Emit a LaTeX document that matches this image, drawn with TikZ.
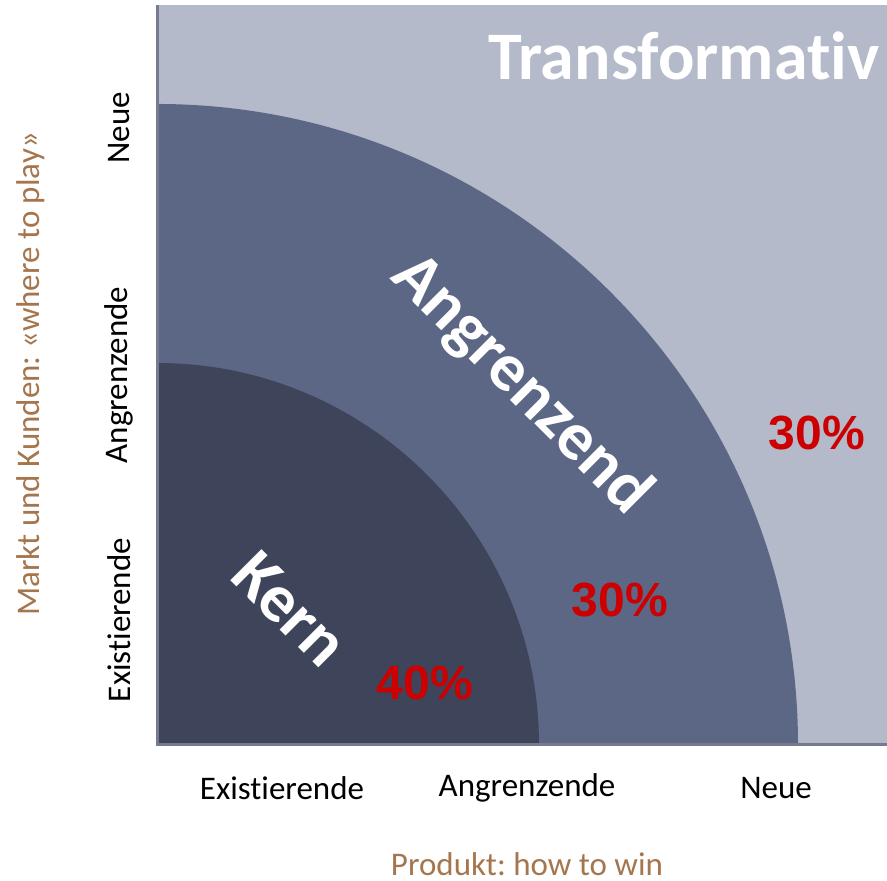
\documentclass[tikz,border=0pt]{standalone}
\usepackage{fontspec}
\setmainfont[RawFeature={-liga;-clig;-calt}]{Carlito}
\newfontfamily\pctfont{Liberation Sans}
\definecolor{outerzone}{RGB}{181,186,203}
\definecolor{middlezone}{RGB}{92,103,133}
\definecolor{innerzone}{RGB}{62,68,89}
\definecolor{axisline}{RGB}{118,122,143}
\definecolor{axistitle}{RGB}{165,118,78}
\definecolor{share}{RGB}{204,0,0}
\pgfmathsetmacro{\kernRadius}{382}
\pgfmathsetmacro{\angrRadius}{641}
\frenchspacing

\begin{document}
\begin{tikzpicture}[x=0.5pt,y=0.5pt,
    zone/.style={text=white,font=\fontsize{34}{34}\selectfont\bfseries},
    tick/.style={font=\fontsize{16.5}{16.5}\selectfont},
    axistext/.style={text=axistitle,inner sep=1pt,
        font=\fontsize{16.5}{16.5}\selectfont},
    pct/.style={text=share,font=\pctfont\fontsize{24}{24}\selectfont\bfseries}]
\useasboundingbox (0,0) rectangle (887,881);

% zones
\coordinate (origin) at (157,136);
\fill[outerzone] (origin) rectangle (887,876);
\fill[middlezone] (origin) -- ++(\angrRadius,0)
    arc[start angle=0,end angle=90,radius=\angrRadius] -- cycle;
\fill[innerzone] (origin) -- ++(\kernRadius,0)
    arc[start angle=0,end angle=90,radius=\kernRadius] -- cycle;

% axes
\coordinate (ytop) at (157,876);
\coordinate (xend) at (887,136);
\draw[axisline,line width=1.5pt] (ytop) -- (origin) -- (xend);

% zone names
\node[zone,anchor=base west] (transf) at (481,801) {Transformativ};
\node[zone,rotate=-45] (angr) at (521,496) {Angrenzend};
\node[zone,rotate=-45] (kern) at (290,272) {Kern};

% shares
\node[pct] (pkern) at (425,198) {40\%};
\node[pct] (pangr) at (620,281) {30\%};
\node[pct] (ptransf) at (817,448) {30\%};

% ticks
\node[tick] (xexist) at (282,93) {Existierende};
\node[tick] (xangr) at (527,93) {Angrenzende};
\node[tick] (xneue) at (776,93) {Neue};
\node[tick,rotate=90] (yexist) at (119,261) {Existierende};
\node[tick,rotate=90] (yangr) at (119,506) {Angrenzende};
\node[tick,rotate=90] (yneue) at (119,753) {Neue};

% axis titles
\node[axistext] (xtitle) at (527,17) {Produkt: how to win};
\node[axistext,rotate=90] (ytitle) at (31,507) {Markt und Kunden: «where to play»};

\end{tikzpicture}
\end{document}
